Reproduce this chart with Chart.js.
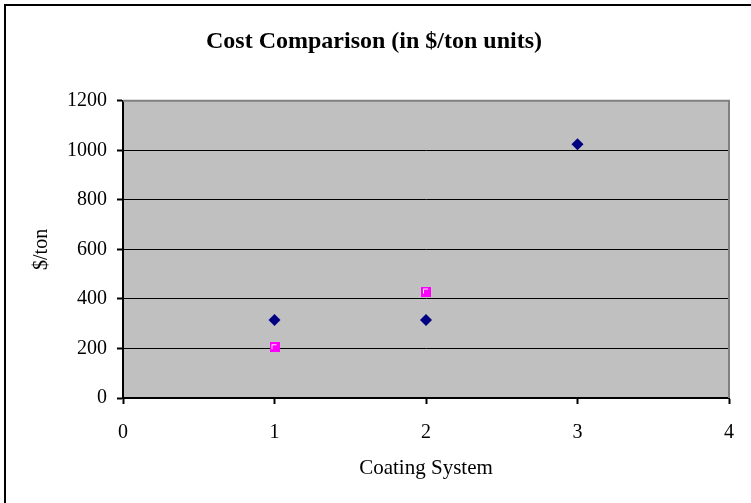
<!DOCTYPE html>
<html>
<head>
<meta charset="utf-8">
<script src="https://cdn.jsdelivr.net/npm/chart.js@4.4.0/dist/chart.umd.min.js"></script>
<style>
  html, body { margin: 0; padding: 0; background: #fff; }
  #wrap { position: relative; width: 751px; height: 503px; overflow: hidden; }
  #frame { position: absolute; left: 4px; top: 4px; width: 760px; height: 520px;
           border-left: 2px solid #000; border-top: 2px solid #000; pointer-events: none; }
</style>
</head>
<body>
<div id="wrap">
  <canvas id="costChart" width="751" height="503"></canvas>
  <div id="frame"></div>
</div>
<script>
// data
const systemA = [1, 2, 3];
const costA = [315, 315, 1025];
const systemB = [1, 2];
const costB = [205, 430];
const xTicks = [0, 1, 2, 3, 4];
const yTicks = [0, 200, 400, 600, 800, 1000, 1200];

const serif = "'Liberation Serif', 'Times New Roman', serif";

// magenta square marker with white inner corner
function squareMarker() {
  const c = document.createElement('canvas');
  c.width = 10; c.height = 10;
  const g = c.getContext('2d');
  g.fillStyle = '#FF00FF';
  g.fillRect(0, 0, 10, 10);
  g.strokeStyle = '#ffffff';
  g.lineWidth = 1;
  g.beginPath();
  g.moveTo(2.5, 7);
  g.lineTo(2.5, 2.5);
  g.lineTo(7, 2.5);
  g.stroke();
  return c;
}

// grey plot area with its border
const plotBack = {
  id: 'plotBack',
  beforeDraw(chart) {
    const a = chart.chartArea, ctx = chart.ctx;
    ctx.save();
    ctx.fillStyle = '#C0C0C0';
    ctx.fillRect(a.left, a.top, a.right - a.left, a.bottom - a.top);
    ctx.restore();
  },
  afterDatasetsDraw(chart) {
    const a = chart.chartArea, ctx = chart.ctx;
    ctx.save();
    ctx.strokeStyle = '#808080';
    ctx.lineWidth = 2;
    ctx.beginPath();
    ctx.moveTo(a.left, a.top);
    ctx.lineTo(a.right, a.top);
    ctx.lineTo(a.right, a.bottom);
    ctx.stroke();
    ctx.restore();
  }
};

const ctx = document.getElementById('costChart').getContext('2d');
new Chart(ctx, {
  type: 'scatter',
  data: {
    datasets: [{
      label: 'A',
      data: systemA.map((x, i) => ({ x: x, y: costA[i] })),
      pointStyle: 'rectRot',
      pointRadius: 6,
      backgroundColor: '#000080',
      borderColor: '#000080',
      borderWidth: 0
    }, {
      label: 'B',
      data: systemB.map((x, i) => ({ x: x, y: costB[i] })),
      pointStyle: squareMarker(),
      backgroundColor: '#FF00FF',
      borderColor: '#FF00FF'
    }]
  },
  options: {
    responsive: false,
    animation: false,
    devicePixelRatio: 1,
    layout: { padding: { left: 10, right: 13, top: 0, bottom: 0 } },
    plugins: {
      legend: { display: false },
      tooltip: { enabled: false },
      title: {
        display: true,
        text: 'Cost Comparison (in $/ton units)',
        color: '#000',
        font: { family: serif, size: 24, weight: 'bold' },
        padding: { top: 27, bottom: 45 }
      }
    },
    scales: {
      x: {
        type: 'linear',
        min: 0,
        max: 4,
        afterBuildTicks: s => { s.ticks = xTicks.map(v => ({ value: v })); },
        afterFit: s => { s.height = 105; },
        border: { color: '#000', width: 2 },
        grid: { drawOnChartArea: false, tickLength: 6, tickColor: '#000', tickWidth: 2 },
        ticks: { color: '#000', padding: 17, font: { family: serif, size: 20 }, callback: v => String(v) },
        title: {
          display: true,
          text: 'Coating System',
          color: '#000',
          font: { family: serif, size: 21 },
          padding: { top: 4, bottom: 22 }
        }
      },
      y: {
        min: 0,
        max: 1200,
        afterBuildTicks: s => { s.ticks = yTicks.map(v => ({ value: v })); },
        afterFit: s => { s.width = 113; },
        border: { color: '#000', width: 2 },
        grid: { color: '#000', lineWidth: 1, tickLength: 6, tickColor: '#000', tickWidth: 2 },
        ticks: { color: '#000', padding: 10, font: { family: serif, size: 20 }, callback: v => String(v) },
        title: {
          display: true,
          text: '$/ton',
          color: '#000',
          font: { family: serif, size: 20 },
          padding: { top: 20, bottom: 4 }
        }
      }
    }
  },
  plugins: [plotBack]
});
</script>
</body>
</html>
